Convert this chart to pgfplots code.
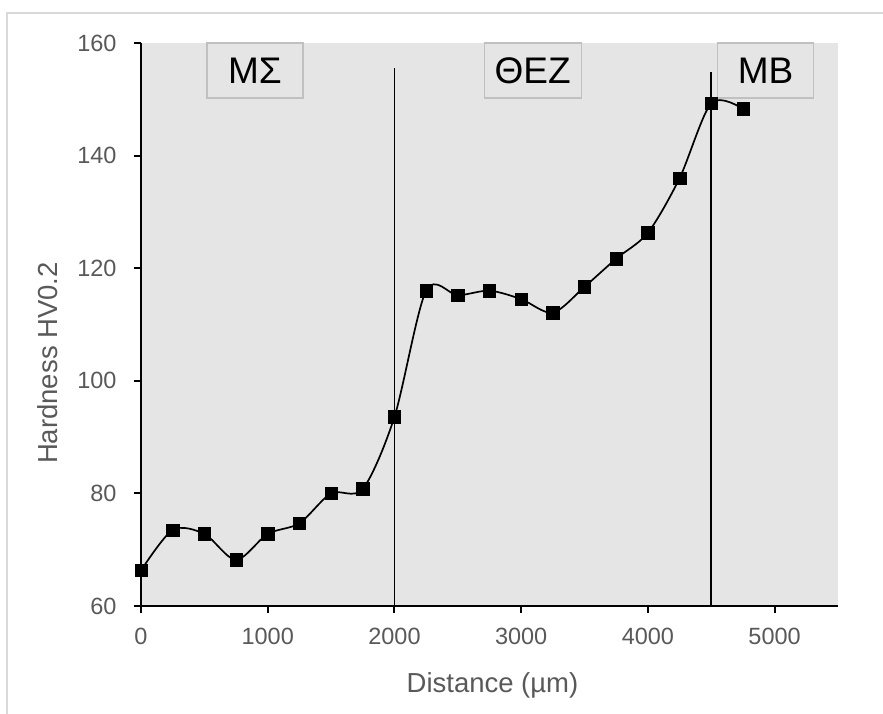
\documentclass[border=0pt]{standalone}
\usepackage{pgfplots}
\pgfplotsset{compat=1.18}
\usepackage{fontspec}
\setmainfont{Liberation Sans}
\definecolor{bg}{HTML}{E5E5E5}
\definecolor{tickc}{HTML}{595959}
\definecolor{boxc}{HTML}{C0C0C0}
\definecolor{frame}{HTML}{D9D9D9}
\begin{document}
\begin{tikzpicture}[x=1pt,y=1pt]
\useasboundingbox (0,0) rectangle (883,713);
\clip (0,0) rectangle (883,713);
\draw[frame, line width=1.5pt] (7,-20) rectangle (1000,700);
\begin{axis}[
  at={(141pt,107pt)}, anchor=south west,
  scale only axis, width=697pt, height=563pt,
  xmin=0, xmax=5500, ymin=60, ymax=160,
  axis x line*=bottom, axis y line*=left,
  axis line style={line width=2.5pt, black},
  xtick={0,1000,...,5000}, ytick={60,80,...,160},
  tick style={black, line width=2pt},
  tick align=outside, major tick length=7pt,
  ticklabel style={font=\fontsize{23.5}{28}\selectfont, text=tickc},
  xticklabel style={yshift=-12pt},
  yticklabel style={xshift=-14pt},
  /pgf/number format/assume math mode=true,
  /pgf/number format/set thousands separator={},
  axis background/.style={fill=bg},
  clip=false,
]
\addplot[black, line width=1.9pt] coordinates {(2000,60) (2000,155.5)};
\addplot[black, line width=1.9pt] coordinates {(4500,60) (4500,154.8)};
\addplot[black, line width=1.7pt, smooth, tension=0.5, mark=square*, mark size=6.2pt, mark options={solid, line width=0.5pt}] table {
x y
0 66.3
250 73.5
500 72.8
750 68.2
1000 72.8
1250 74.7
1500 80.0
1750 80.8
2000 93.6
2250 116.0
2500 115.2
2750 116.0
3000 114.5
3250 112.1
3500 116.7
3750 121.7
4000 126.3
4250 136.0
4500 149.3
4750 148.3
};
\node[draw=boxc, fill=bg, line width=1.2pt, minimum width=96pt, minimum height=55pt, inner sep=0pt, font=\fontsize{37}{40}\selectfont] at (axis cs:899,155.1) {ΜΣ};
\node[draw=boxc, fill=bg, line width=1.2pt, minimum width=97pt, minimum height=55pt, inner sep=0pt, font=\fontsize{37}{40}\selectfont] at (axis cs:3091,155.1) {ΘΕΖ};
\node[draw=boxc, fill=bg, line width=1.2pt, minimum width=96pt, minimum height=55pt, inner sep=0pt, font=\fontsize{37}{40}\selectfont] at (axis cs:4929,155.1) {ΜΒ};
\end{axis}
\node[anchor=base, inner sep=0pt, text=tickc, font=\fontsize{27.5}{32}\selectfont] at (492.5,21) {Distance (µm)};
\node[rotate=90, anchor=center, inner sep=0pt, text=tickc, font=\fontsize{27.5}{32}\selectfont] at (48,350) {Hardness HV0.2};
\end{tikzpicture}
\end{document}
